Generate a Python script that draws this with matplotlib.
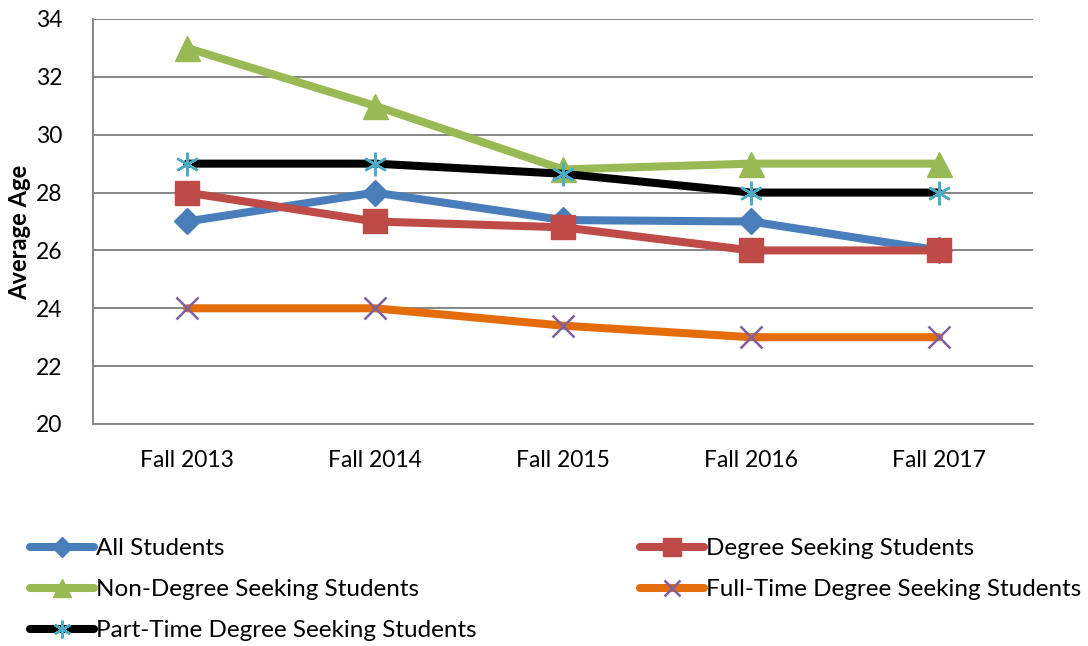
import matplotlib
matplotlib.use("Agg")
import matplotlib.pyplot as plt
from matplotlib.lines import Line2D

plt.rcParams['font.family'] = ['Lato', 'DejaVu Sans']

categories = ["Fall 2013", "Fall 2014", "Fall 2015", "Fall 2016", "Fall 2017"]
all_students = [27, 28, 27.05, 27, 26]
degree_seeking = [28, 27, 26.8, 26, 26]
non_degree = [33, 31, 28.8, 29, 29]
full_time = [24, 24, 23.4, 23, 23]
part_time = [29, 29, 28.65, 28, 28]
yticks = [20, 22, 24, 26, 28, 30, 32, 34]

W, H = 1088, 646
fig = plt.figure(figsize=(W / 100, H / 100), dpi=100)
ax = fig.add_axes([93/W, 1-424/H, (1033-93)/W, (424-19)/H])

x = list(range(len(categories)))
lw = 5.8
series = [
    ("All Students", all_students, dict(color="#4A7EBB", marker="D", markersize=13, markerfacecolor="#4A7EBB", markeredgecolor="#4A7EBB")),
    ("Degree Seeking Students", degree_seeking, dict(color="#BE4B48", marker="s", markersize=17, markerfacecolor="#BE4B48", markeredgecolor="#BE4B48")),
    ("Non-Degree Seeking Students", non_degree, dict(color="#98B954", marker="^", markersize=18, markerfacecolor="#98B954", markeredgecolor="#98B954")),
    ("Full-Time Degree Seeking Students", full_time, dict(color="#E46C0A", marker="x", markersize=16, markeredgecolor="#7D60A0", markeredgewidth=1.8)),
    ("Part-Time Degree Seeking Students", part_time, dict(color="#000000", marker=(6, 2, 0), markersize=17, markeredgecolor="#4BACC6", markeredgewidth=1.8)),
]
handles = {}
for name, vals, kw in series:
    h, = ax.plot(x, vals, linewidth=lw, label=name, solid_capstyle="round", zorder=3, **kw)
    handles[name] = h

ax.set_xlim(-0.5, 4.5)
ax.set_ylim(20, 34)
ax.set_yticks(yticks)
ax.set_xticks(x)
ax.set_xticklabels(categories)
ax.tick_params(axis="both", length=0, labelsize=16.5, colors="black")
ax.tick_params(axis="x", pad=19)
ax.tick_params(axis="y", pad=22)
ax.grid(axis="y", color="#868686", linewidth=1.4)
ax.set_axisbelow(True)
for s in ["top", "right"]:
    ax.spines[s].set_visible(False)
for s in ["left", "bottom"]:
    ax.spines[s].set_color("#868686")
    ax.spines[s].set_linewidth(1.4)

# y-axis title: fit its rendered length to the reference (~136 px)
ylab = ax.set_ylabel("Average Age", fontsize=15, fontweight="bold")
fig.canvas.draw()
ext = ylab.get_window_extent(fig.canvas.get_renderer())
ylab.set_fontsize(15 * 136 / ext.height)
ax.yaxis.set_label_coords(31/W, 1 - 232/H, transform=fig.transFigure)

def mk_handle(name):
    h = handles[name]
    ms = h.get_markersize() * 0.75
    return Line2D([], [], color=h.get_color(), linewidth=lw, marker=h.get_marker(),
                  markersize=ms, markerfacecolor=h.get_markerfacecolor(),
                  markeredgecolor=h.get_markeredgecolor(), markeredgewidth=h.get_markeredgewidth(),
                  solid_capstyle="round")

left_names = ["All Students", "Non-Degree Seeking Students", "Part-Time Degree Seeking Students"]
right_names = ["Degree Seeking Students", "Full-Time Degree Seeking Students"]
common = dict(frameon=False, fontsize=17.5, handlelength=2.65, handletextpad=0.05,
              labelspacing=0.83, borderaxespad=0, borderpad=0, loc="upper left")
leg1 = fig.legend([mk_handle(n) for n in left_names], left_names,
                  bbox_to_anchor=(30/W, 1-538/H), **common)
leg2 = fig.legend([mk_handle(n) for n in right_names], right_names,
                  bbox_to_anchor=(640/W, 1-538/H), **common)

fig.savefig("out.png", dpi=100)
